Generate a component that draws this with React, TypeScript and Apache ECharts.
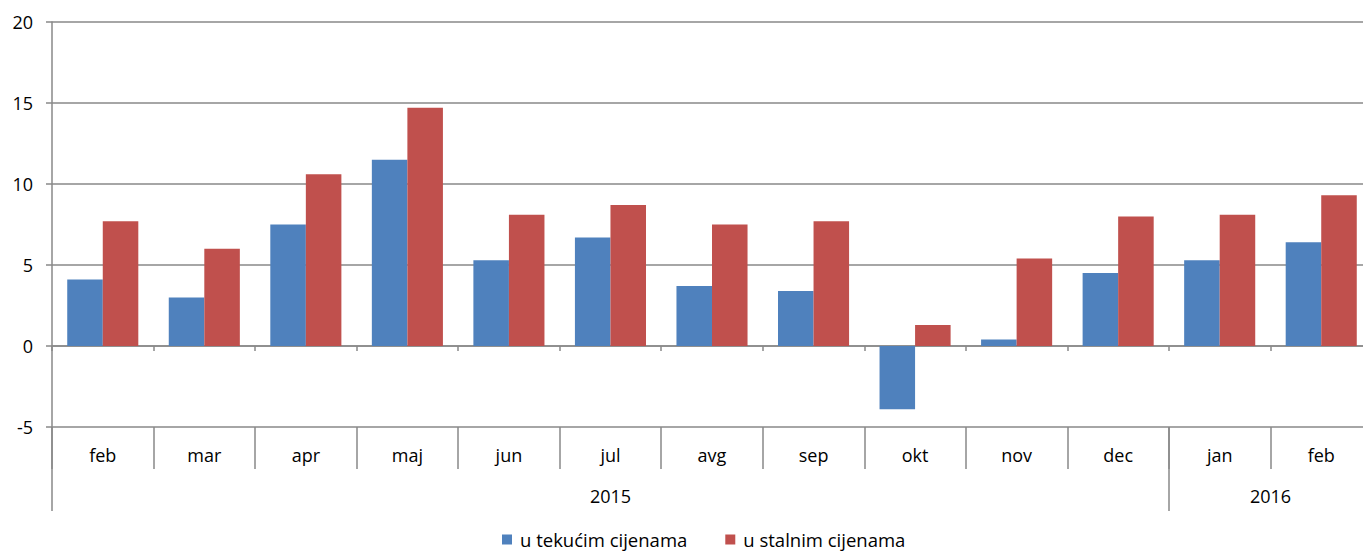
import React, { useEffect, useRef } from "react";
import * as echarts from "echarts";

const months = ["feb", "mar", "apr", "maj", "jun", "jul", "avg", "sep", "okt", "nov", "dec", "jan", "feb"];
const tekuce = [4.1, 3.0, 7.5, 11.5, 5.3, 6.7, 3.7, 3.4, -3.9, 0.4, 4.5, 5.3, 6.4];
const stalne = [7.7, 6.0, 10.6, 14.7, 8.1, 8.7, 7.5, 7.7, 1.3, 5.4, 8.0, 8.1, 9.3];
const yearLabels = ["2015", "2016"];
const yearLabelPos = [5.5, 12];
const yearBounds = [0, 11, 13];
const seriesNames = ["u tekućim cijenama", "u stalnim cijenama"];

const FONT = "Open Sans";
const FS = 18;
const GRID = "#898989";

export default function App() {
  const ref = useRef<HTMLDivElement>(null);
  useEffect(() => {
    if (!ref.current) return;
    const chart = echarts.init(ref.current, null, { renderer: "svg" });
    chart.setOption({
      animation: false,
      textStyle: { fontFamily: FONT, color: "#000" },
      grid: { left: 52, right: 0, top: 22, bottom: 127, containLabel: false },
      legend: {
        bottom: 0,
        left: 497,
        itemWidth: 10,
        itemHeight: 10,
        itemGap: 38,
        icon: "rect",
        textStyle: { fontFamily: FONT, fontSize: 18.5, color: "#000", padding: [0, 0, 0, 3] },
        data: seriesNames,
      },
      xAxis: [
        {
          type: "category",
          data: months,
          axisLine: { onZero: true, lineStyle: { color: GRID, width: 1.5 } },
          axisTick: { show: true, length: 5, lineStyle: { color: GRID, width: 1.5 } },
          axisLabel: { show: false },
        },
        {
          type: "category",
          data: months,
          position: "bottom",
          offset: 0,
          axisLine: { show: false, onZero: false },
          axisTick: { show: true, length: 42, lineStyle: { color: GRID, width: 1.5 } },
          axisLabel: { show: true, margin: 19, fontSize: FS, color: "#000", fontFamily: FONT },
        },
        {
          type: "value",
          min: 0,
          max: 13,
          position: "bottom",
          offset: 0,
          splitLine: { show: false },
          axisLine: { show: false, onZero: false },
          axisTick: { show: true, length: 84, customValues: yearBounds, lineStyle: { color: GRID, width: 1.5 } },
          axisLabel: {
            show: true,
            margin: 60,
            fontSize: FS,
            color: "#000",
            fontFamily: FONT,
            customValues: yearLabelPos,
            formatter: (v: number) => {
              const i = yearLabelPos.indexOf(v);
              return i >= 0 ? yearLabels[i] : "";
            },
          },
        },
      ],
      yAxis: {
        type: "value",
        min: -5,
        max: 20,
        interval: 5,
        axisLine: { show: true, lineStyle: { color: GRID, width: 1.5 } },
        axisTick: { show: true, length: 6, lineStyle: { color: GRID, width: 1.5 } },
        axisLabel: { margin: 19, fontSize: FS, color: "#000", fontFamily: FONT },
        splitLine: { show: true, lineStyle: { color: GRID, width: 1.5 } },
      },
      series: [
        {
          name: seriesNames[0],
          type: "bar",
          data: tekuce,
          barGap: "0%",
          barCategoryGap: "30%",
          itemStyle: { color: "#4F81BD" },
        },
        {
          name: seriesNames[1],
          type: "bar",
          data: stalne,
          barGap: "0%",
          barCategoryGap: "30%",
          itemStyle: { color: "#C0504D" },
        },
      ],
    });
    return () => chart.dispose();
  }, []);
  return (
    <div style={{ position: "absolute", left: 0, top: 0, width: 1363, height: 554, overflow: "hidden" }}>
      <div ref={ref} style={{ width: 1372, height: 554 }} />
    </div>
  );
}
